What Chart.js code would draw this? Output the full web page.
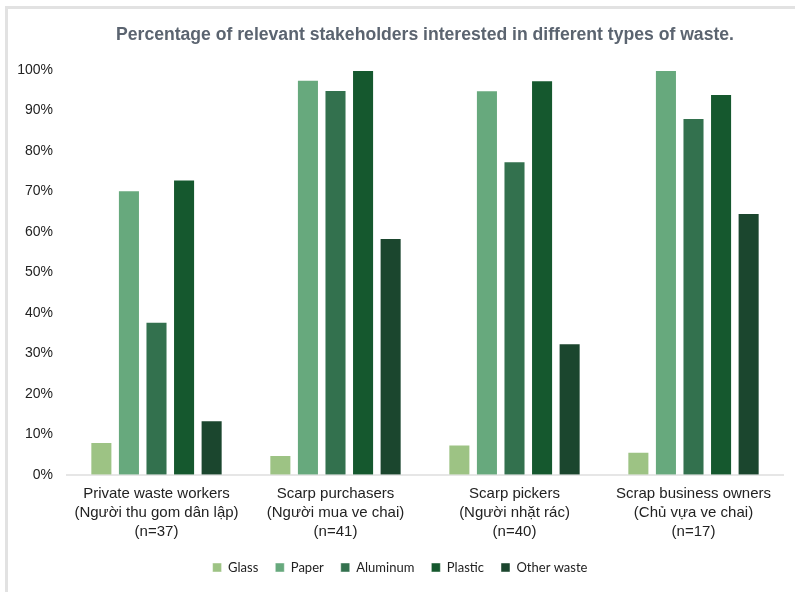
<!DOCTYPE html>
<html>
<head>
<meta charset="utf-8">
<script src="https://cdn.jsdelivr.net/npm/chart.js@4/dist/chart.umd.min.js"></script>
<style>
  html, body { margin: 0; padding: 0; background: #fff; }
  #frame {
    position: absolute; left: 5px; top: 6px; width: 790px; height: 586px;
    border-top: 3px solid #e2e2e2; border-left: 3px solid #e2e2e2;
    box-sizing: border-box;
  }
  #wrap { position: absolute; left: 0; top: 0; width: 795px; height: 592px; }
</style>
</head>
<body>
<div id="frame"></div>
<div id="wrap"><canvas id="wastechart"></canvas></div>
<script>
// stakeholder groups, three lines each under the axis
const groups = [
    ["Private waste workers", "(Người thu gom dân lập)", "(n=37)"],
    ["Scarp purchasers", "(Người mua ve chai)", "(n=41)"],
    ["Scarp pickers", "(Người nhặt rác)", "(n=40)"],
    ["Scrap business owners", "(Chủ vựa ve chai)", "(n=17)"]
];
// percentage interested, per waste type
const glass = [8.1, 4.9, 7.5, 5.7];
const paper = [70.3, 97.6, 95.0, 100];
const aluminum = [37.8, 95.1, 77.5, 88.2];
const plastic = [73.0, 100, 97.5, 94.1];
const otherWaste = [13.5, 58.5, 32.5, 64.7];
const yTicks = [0, 10, 20, 30, 40, 50, 60, 70, 80, 90, 100];

function makeSet(label, values, color) {
    return {
        label: label,
        data: values,
        backgroundColor: color,
        borderColor: "rgba(255, 255, 255, 0.45)",
        borderWidth: 1,
        categoryPercentage: 0.77,
        barPercentage: 0.8
    };
}

var ctx = document.getElementById("wastechart").getContext("2d");
var wasteChart = new Chart(ctx, {
    type: "bar",
    data: {
        labels: groups,
        datasets: [
            makeSet("Glass", glass, "#9dc384"),
            makeSet("Paper", paper, "#67a97d"),
            makeSet("Aluminum", aluminum, "#33714e"),
            makeSet("Plastic", plastic, "#15582e"),
            makeSet("Other waste", otherWaste, "#1b462e")
        ]
    },
    options: {
        responsive: true,
        maintainAspectRatio: false,
        animation: false,
        layout: { padding: { left: 17, right: 12, top: 0, bottom: 8 } },
        plugins: {
            title: {
                display: true,
                text: "Percentage of relevant stakeholders interested in different types of waste.",
                fullSize: false,
                color: "#5b6470",
                font: { family: "'Liberation Sans', Arial, sans-serif", size: 17.6, weight: "bold" },
                padding: { top: 25, bottom: 24 }
            },
            legend: {
                position: "bottom",
                labels: {
                    boxWidth: 9,
                    boxHeight: 9,
                    padding: 17,
                    color: "#222",
                    font: { family: "Lato, 'Open Sans', sans-serif", size: 13 }
                }
            },
            tooltip: { enabled: false }
        },
        scales: {
            x: {
                grid: { display: false, drawTicks: false },
                border: { display: true, color: "#e6e6e6", width: 2 },
                // trim the spare room left under the group labels
                afterFit: function (scale) { scale.height -= 6; },
                ticks: {
                    color: "#222",
                    padding: 9,
                    maxRotation: 0,
                    font: { family: "'Liberation Sans', Arial, sans-serif", size: 15, lineHeight: 1.27 }
                }
            },
            y: {
                min: 0,
                max: 100,
                afterBuildTicks: function (scale) {
                    scale.ticks = yTicks.map(v => ({ value: v }));
                },
                // fixed gutter for the percent labels
                afterFit: function (scale) { scale.width = 50; },
                grid: { display: false, drawTicks: false },
                border: { display: false },
                ticks: {
                    color: "#222",
                    padding: 14,
                    font: { family: "'Liberation Sans', Arial, sans-serif", size: 14 },
                    callback: function (v) { return v + "%"; }
                }
            }
        }
    }
});
</script>
</body>
</html>
